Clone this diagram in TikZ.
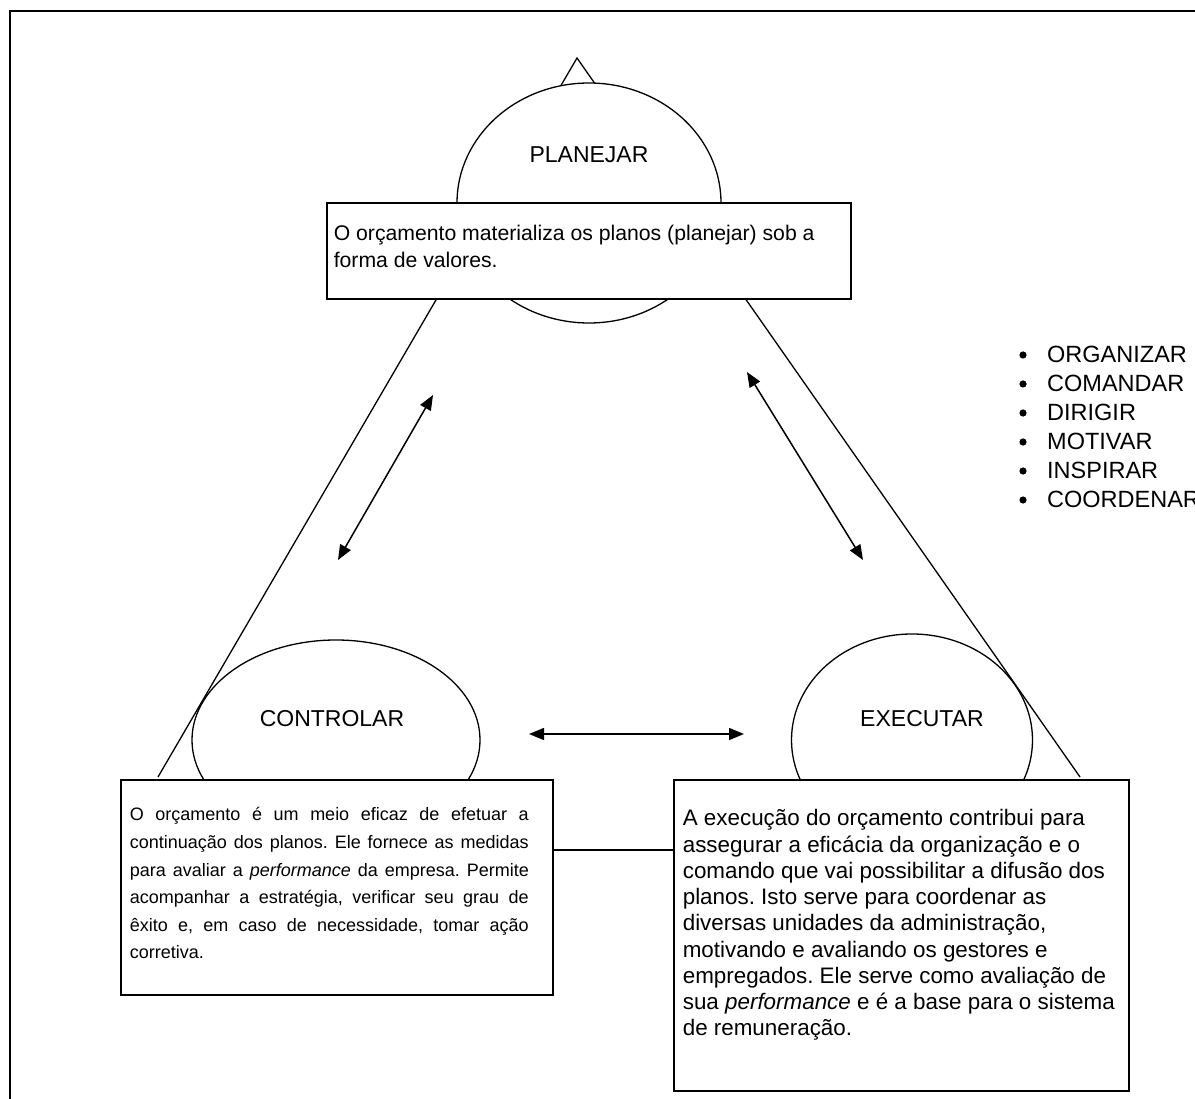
\documentclass[tikz,border=0pt]{standalone}
\usepackage{fontspec}
\setmainfont{Liberation Sans}
\frenchspacing
\usetikzlibrary{shapes.geometric,arrows.meta}
\tikzset{
  funcao/.style={ellipse, draw, fill=white, line width=1.3pt, inner sep=0pt},
  rotulo/.style={font=\fontsize{23}{27}\selectfont, inner sep=0pt},
  caixa/.style={draw, fill=white, line width=1.6pt, inner ysep=0pt, anchor=north west},
  lado/.style={line width=1.3pt},
  duplaseta/.style={line width=1.5pt, {Triangle[length=15pt,width=12pt]}-{Triangle[length=15pt,width=12pt]}},
}

\begin{document}
\begin{tikzpicture}[x=1pt,y=-1pt]
          \useasboundingbox (0,0) rectangle (1195,1099);
          \clip (0,0) rectangle (1195,1099);
          \draw[line width=2pt] (10,11) rectangle (1210,1110);
          \coordinate (topo) at (577,58);
          \coordinate (baseE) at (158,777);
          \coordinate (baseD) at (1080,777);
          \draw[lado] (baseE) -- (topo) -- (baseD);
          \node[funcao, minimum width=264pt, minimum height=240pt] (planejar) at (589,203) {};
          \node[funcao, minimum width=288pt, minimum height=200pt] (controlar) at (336,740) {};
          \node[funcao, minimum width=241pt, minimum height=212pt] (executar) at (912,740) {};
          \node[rotulo] (tPlanejar) at ([yshift=48.5pt]planejar.center) {PLANEJAR};
          \node[rotulo] (tControlar) at ([xshift=-4pt,yshift=21.5pt]controlar.center) {CONTROLAR};
          \node[rotulo] (tExecutar) at ([xshift=10pt,yshift=21pt]executar.center) {EXECUTAR};
          \node[caixa, inner xsep=7pt] (cxPlanejar) at (326,202) {\parbox[t][96pt][t]{510pt}{\fontsize{21.2}{26.5}\selectfont
            \rule{0pt}{38pt}O orçamento materializa os planos (planejar) sob a\\
            forma de valores.}};
          \node[caixa, inner xsep=9pt] (cxControlar) at (120,779) {\parbox[t][215pt][t]{414pt}{\fontsize{18}{27.6}\selectfont
            \rule{0pt}{41pt}\makebox[399pt][s]{O orçamento é um meio eficaz de efetuar a}\\
            \makebox[399pt][s]{continuação dos planos. Ele fornece as medidas}\\
            \makebox[399pt][s]{para avaliar a \textit{performance} da empresa. Permite}\\
            \makebox[399pt][s]{acompanhar a estratégia, verificar seu grau de}\\
            \makebox[399pt][s]{êxito e, em caso de necessidade, tomar ação}\\
            corretiva.}};
          \node[caixa, inner xsep=9pt] (cxExecutar) at (673,779) {\parbox[t][311pt][t]{437pt}{\fontsize{22.4}{26.25}\selectfont
            \rule{0pt}{46pt}A execução do orçamento contribui para\\
            assegurar a eficácia da organização e o\\
            comando que vai possibilitar a difusão dos\\
            planos. Isto serve para coordenar as\\
            diversas unidades da administração,\\
            motivando e avaliando os gestores e\\
            empregados. Ele serve como avaliação de\\
            sua \textit{performance} e é a base para o sistema\\
            de remuneração.}};
          \draw[lado] ([yshift=-71pt]cxControlar.north east) -- ([yshift=-71pt]cxExecutar.north west);
          \coordinate (setaE1) at (338,560);
          \coordinate (setaE2) at (433,395);
          \coordinate (setaD1) at (747,372);
          \coordinate (setaD2) at (863,560);
          \coordinate (setaH1) at (529,734);
          \coordinate (setaH2) at (744,734);
          \draw[duplaseta] (setaE1) -- (setaE2);
          \draw[duplaseta] (setaD1) -- (setaD2);
          \draw[duplaseta] (setaH1) -- (setaH2);
          \node[anchor=base west, inner sep=0pt] (lista) at (1047,362.7) {\parbox[t]{200pt}{\fontsize{23.5}{29}\selectfont
            ORGANIZAR\\
            COMANDAR\\
            DIRIGIR\\
            MOTIVAR\\
            INSPIRAR\\
            COORDENAR}};
          \foreach \k in {0,...,5}
            \fill (1023,355+29*\k) circle (3.6pt);
        \end{tikzpicture}
\end{document}
